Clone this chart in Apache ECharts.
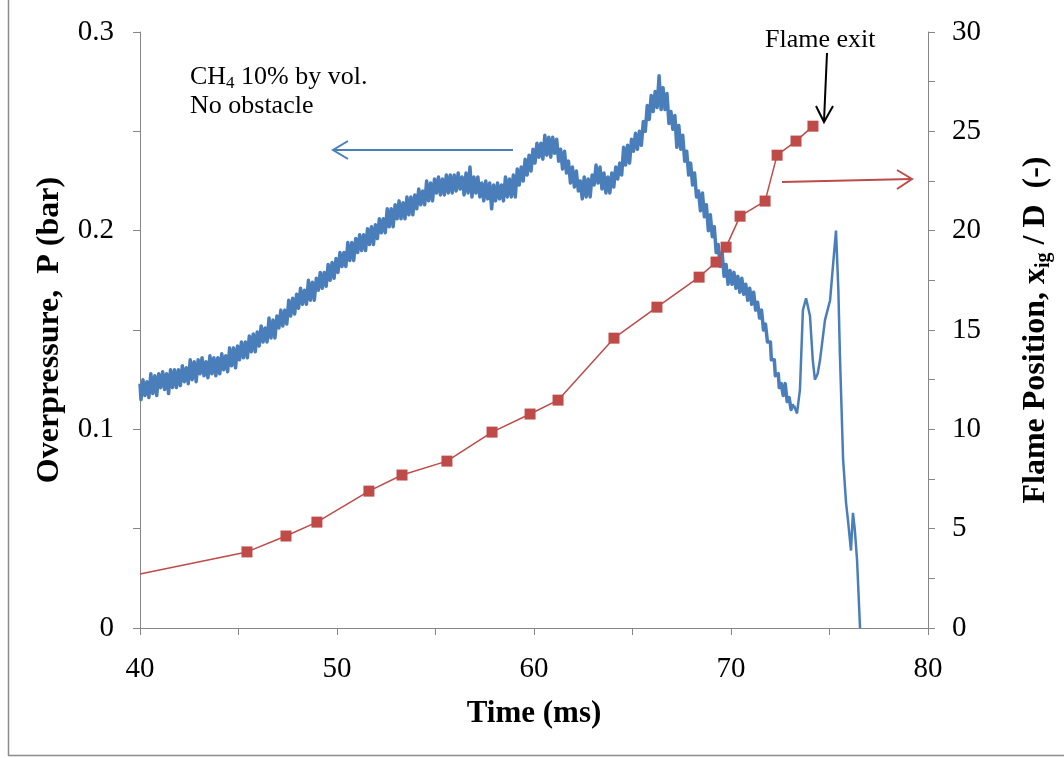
<!DOCTYPE html>
<html>
<head>
<meta charset="utf-8">
<title>Overpressure and flame position</title>
<script src="https://cdn.jsdelivr.net/npm/echarts@6/dist/echarts.min.js"></script>
<style>
  html, body { margin: 0; padding: 0; background: #fff; }
  #chart { width: 1064px; height: 758px; }
</style>
</head>
<body>
<div id="chart"></div>
<script>
// pressure trace, noisy part, ms / bar
var noisyTime = [
  40.0,40.1,40.2,40.3,40.4,40.5,40.6,40.7,40.8,40.9, 41.0,41.1,41.2,41.3,41.4,41.5,41.6,41.7,41.8,41.9,
  42.0,42.1,42.2,42.3,42.4,42.5,42.6,42.7,42.8,42.9, 43.0,43.1,43.2,43.3,43.4,43.5,43.6,43.7,43.8,43.9,
  44.0,44.1,44.2,44.3,44.4,44.5,44.6,44.7,44.8,44.9, 45.0,45.1,45.2,45.3,45.4,45.5,45.6,45.7,45.8,45.9,
  46.0,46.1,46.2,46.3,46.4,46.5,46.6,46.7,46.8,46.9, 47.0,47.1,47.2,47.3,47.4,47.5,47.6,47.7,47.8,47.9,
  48.0,48.1,48.2,48.3,48.4,48.5,48.6,48.7,48.8,48.9, 49.0,49.1,49.2,49.3,49.4,49.5,49.6,49.7,49.8,49.9,
  50.0,50.1,50.2,50.3,50.4,50.5,50.6,50.7,50.8,50.9, 51.0,51.1,51.2,51.3,51.4,51.5,51.6,51.7,51.8,51.9,
  52.0,52.1,52.2,52.3,52.4,52.5,52.6,52.7,52.8,52.9, 53.0,53.1,53.2,53.3,53.4,53.5,53.6,53.7,53.8,53.9,
  54.0,54.1,54.2,54.3,54.4,54.5,54.6,54.7,54.8,54.9, 55.0,55.1,55.2,55.3,55.4,55.5,55.6,55.7,55.8,55.9,
  56.0,56.1,56.2,56.3,56.4,56.5,56.6,56.7,56.8,56.9, 57.0,57.1,57.2,57.3,57.4,57.5,57.6,57.7,57.8,57.9,
  58.0,58.1,58.2,58.3,58.4,58.5,58.6,58.7,58.8,58.9, 59.0,59.1,59.2,59.3,59.4,59.5,59.6,59.7,59.8,59.9,
  60.0,60.1,60.2,60.3,60.4,60.5,60.6,60.7,60.8,60.9, 61.0,61.1,61.2,61.3,61.4,61.5,61.6,61.7,61.8,61.9,
  62.0,62.1,62.2,62.3,62.4,62.5,62.6,62.7,62.8,62.9, 63.0,63.1,63.2,63.3,63.4,63.5,63.6,63.7,63.8,63.9,
  64.0,64.1,64.2,64.3,64.4,64.5,64.6,64.7,64.8,64.9, 65.0,65.1,65.2,65.3,65.4,65.5,65.6,65.7,65.8,65.9,
  66.0,66.1,66.2,66.3,66.4,66.5,66.6,66.7,66.8,66.9, 67.0,67.1,67.2,67.3,67.4,67.5,67.6,67.7,67.8,67.9,
  68.0,68.1,68.2,68.3,68.4,68.5,68.6,68.7,68.8,68.9, 69.0,69.1,69.2,69.3,69.4,69.5,69.6,69.7,69.8,69.9,
  70.0,70.1,70.2,70.3,70.4,70.5,70.6,70.7,70.8,70.9, 71.0,71.1,71.2,71.3,71.4,71.5,71.6,71.7,71.8,71.9,
  72.0,72.1,72.2,72.3,72.4,72.5,72.6,72.7,72.8,72.9,73.0,73.1,73.2
];
var noisyP = [
  .123,.115,.125,.117,.124,.116,.128,.118,.127,.117, .128,.121,.129,.120,.128,.118,.130,.121,.130,.121,
  .130,.122,.132,.124,.131,.123,.135,.125,.134,.124, .135,.128,.136,.127,.134,.126,.137,.128,.136,.127,
  .136,.128,.138,.130,.137,.129,.141,.132,.141,.131, .142,.135,.144,.136,.144,.136,.147,.139,.148,.139,
  .149,.142,.152,.144,.151,.144,.156,.146,.155,.146, .157,.151,.160,.152,.160,.153,.165,.157,.166,.158,
  .168,.161,.171,.163,.170,.163,.175,.165,.174,.165, .176,.170,.179,.171,.179,.172,.183,.175,.184,.176,
  .186,.179,.189,.182,.189,.182,.194,.185,.194,.185, .196,.189,.198,.190,.198,.190,.201,.193,.202,.193,
  .203,.196,.206,.199,.206,.199,.211,.202,.211,.202, .213,.206,.215,.206,.214,.206,.217,.208,.217,.208,
  .218,.211,.221,.213,.220,.213,.225,.215,.224,.215, .226,.219,.227,.218,.226,.218,.228,.219,.228,.219,
  .228,.220,.229,.221,.227,.218,.229,.219,.232,.217, .227,.219,.227,.217,.224,.215,.225,.216,.224,.211,
  .223,.215,.224,.216,.223,.215,.227,.217,.226,.217, .228,.217,.231,.223,.232,.225,.236,.228,.238,.230,
  .241,.234,.244,.237,.244,.236,.248,.238,.247,.237, .247,.239,.246,.235,.241,.231,.240,.229,.235,.224,
  .232,.222,.230,.220,.225,.216,.227,.217,.226,.217, .228,.223,.233,.224,.232,.221,.229,.219,.227,.219,
  .229,.222,.232,.226,.234,.228,.242,.233,.243,.234, .246,.240,.249,.241,.250,.243,.255,.250,.263,.256,
  .268,.260,.270,.262,.278,.261,.272,.261,.269,.254, .260,.251,.258,.242,.253,.241,.248,.235,.240,.228,
  .234,.223,.229,.217,.220,.210,.219,.207,.213,.200, .208,.197,.202,.189,.193,.182,.189,.177,.183,.173,
  .180,.173,.179,.171,.177,.169,.176,.168,.173,.165, .171,.163,.169,.160,.164,.156,.160,.150,.153,.144,
  .144,.135,.135,.127,.128,.121,.123,.117,.123,.114,.116,.110,.112
];
// pressure trace after the flame has left (smooth part)
var smoothTime = [73.2,73.35,73.5,73.65,73.81,74.01,74.15,74.26,74.4,74.52,74.77,75.03,75.2,75.33,75.45,75.53,75.69,75.84,75.94,76.09,76.19,76.28,76.40,76.55];
var smoothP = [.112,.108,.120,.160,.166,.157,.135,.125,.128,.135,.155,.165,.185,.200,.170,.137,.085,.063,.054,.039,.058,.050,.034,0];

// flame position x_ig / D
var flameTime = [40, 45.43, 47.41, 48.98, 51.62, 53.30, 55.58, 57.87, 59.80, 61.22, 64.06, 66.24, 68.38, 69.24, 69.75, 70.46, 71.73, 72.34, 73.30, 74.16];
var flamePos = [2.72, 3.83, 4.63, 5.33, 6.89, 7.70, 8.40, 9.86, 10.77, 11.47, 14.59, 16.15, 17.66, 18.42, 19.17, 20.73, 21.49, 23.80, 24.51, 25.26];

var BLUE = '#4A7EBB', RED = '#BE4B48', AXIS = '#868686';
var SERIF = '"Liberation Serif", "Times New Roman", serif';

function pairs(xs, ys) {
  var out = [];
  for (var i = 0; i < xs.length; i++) out.push([xs[i], ys[i]]);
  return out;
}
var flameData = pairs(flameTime, flamePos);
flameData[0] = { value: flameData[0], symbol: 'none' }; // line enters from the left edge

var tickLabel = { color: '#000', fontFamily: SERIF, fontSize: 29 };
var titleStyle = { color: '#000', fontFamily: SERIF, fontSize: 32, fontWeight: 'bold' };

var chart = echarts.init(document.getElementById('chart'));
chart.setOption({
  animation: false,
  backgroundColor: '#fff',
  grid: { left: 140, right: 136, top: 32, bottom: 130, outerBoundsMode: 'none', containLabel: false },
  xAxis: {
    type: 'value', min: 40, max: 80, interval: 10,
    name: 'Time (ms)', nameLocation: 'middle', nameGap: 70,
    nameTextStyle: Object.assign({}, titleStyle, { fontSize: 31 }),
    axisLine: { show: true, lineStyle: { color: AXIS } },
    axisTick: { show: true, length: 7, lineStyle: { color: AXIS } },
    minorTick: { show: true, splitNumber: 2, length: 7, lineStyle: { color: AXIS } },
    axisLabel: Object.assign({ margin: 27 }, tickLabel),
    splitLine: { show: false }
  },
  yAxis: [{
    type: 'value', min: 0, max: 0.3, interval: 0.1, position: 'left',
    name: 'Overpressure,  P (bar)', nameLocation: 'middle', nameRotate: 90, nameGap: 74,
    nameTextStyle: titleStyle,
    axisLine: { show: true, lineStyle: { color: AXIS } },
    axisTick: { show: true, length: 7, lineStyle: { color: AXIS } },
    minorTick: { show: true, splitNumber: 2, length: 7, lineStyle: { color: AXIS } },
    axisLabel: Object.assign({ margin: 26 }, tickLabel),
    splitLine: { show: false }
  }, {
    type: 'value', min: 0, max: 30, interval: 5, position: 'right',
    name: '{b|Flame Position, x}{s|ig}{b| / D  (-)}', nameLocation: 'middle', nameRotate: 90, nameGap: 90,
    nameTextStyle: Object.assign({}, titleStyle, {
      rich: {
        b: { fontFamily: SERIF, fontSize: 32, fontWeight: 'bold', color: '#000', lineHeight: 36 },
        s: { fontFamily: SERIF, fontSize: 20, fontWeight: 'bold', color: '#000', lineHeight: 36, verticalAlign: 'bottom' }
      }
    }),
    axisLine: { show: true, lineStyle: { color: AXIS } },
    axisTick: { show: true, length: 7, lineStyle: { color: AXIS } },
    minorTick: { show: true, splitNumber: 2, length: 7, lineStyle: { color: AXIS } },
    axisLabel: Object.assign({ margin: 24 }, tickLabel),
    splitLine: { show: false }
  }],
  series: [{
    name: 'Overpressure', type: 'line', yAxisIndex: 0, step: 'middle',
    showSymbol: false, data: pairs(noisyTime, noisyP),
    lineStyle: { color: BLUE, width: 3.5, join: 'round' }, itemStyle: { color: BLUE }
  }, {
    name: 'Overpressure tail', type: 'line', yAxisIndex: 0,
    showSymbol: false, data: pairs(smoothTime, smoothP),
    lineStyle: { color: BLUE, width: 2.5 }, itemStyle: { color: BLUE }
  }, {
    name: 'Flame position', type: 'line', yAxisIndex: 1,
    symbol: 'rect', symbolSize: 11, data: flameData,
    lineStyle: { color: RED, width: 1.5 }, itemStyle: { color: RED }
  }],
  graphic: [
    // frame
    { type: 'polyline', shape: { points: [[8.5, 0], [8.5, 755.5], [1064, 755.5]] }, style: { stroke: '#8c8c8c', fill: null, lineWidth: 1.5 } },
    // annotations
    { type: 'text', x: 190, y: 62, style: {
        text: '{a|CH}{s|4}{a| 10% by vol.}', fill: '#000',
        rich: {
          a: { fontFamily: SERIF, fontSize: 26, lineHeight: 30, fill: '#000' },
          s: { fontFamily: SERIF, fontSize: 17, lineHeight: 30, fill: '#000', verticalAlign: 'bottom' }
        }
    } },
    { type: 'text', x: 190, y: 93, style: { text: 'No obstacle', fontFamily: SERIF, fontSize: 26, fill: '#000' } },
    { type: 'text', x: 765, y: 27, style: { text: 'Flame exit', fontFamily: SERIF, fontSize: 26, fill: '#000' } },
    // arrows
    { type: 'line', shape: { x1: 333, y1: 150, x2: 513, y2: 150 }, style: { stroke: BLUE, lineWidth: 2 } },
    { type: 'polyline', shape: { points: [[348, 141], [333, 150], [348, 159]] }, style: { stroke: BLUE, fill: null, lineWidth: 2 } },
    { type: 'line', shape: { x1: 782, y1: 182, x2: 911, y2: 179 }, style: { stroke: RED, lineWidth: 2 } },
    { type: 'polyline', shape: { points: [[897, 170], [912, 179], [897, 189]] }, style: { stroke: RED, fill: null, lineWidth: 2 } },
    { type: 'line', shape: { x1: 827, y1: 53, x2: 824, y2: 121 }, style: { stroke: '#000', lineWidth: 2 } },
    { type: 'polyline', shape: { points: [[816, 106], [824, 122], [833, 106]] }, style: { stroke: '#000', fill: null, lineWidth: 2 } }
  ]
});
</script>
</body>
</html>
